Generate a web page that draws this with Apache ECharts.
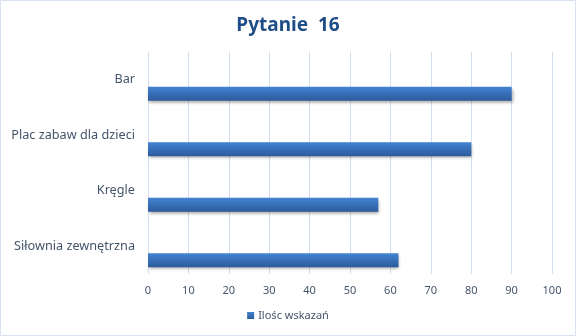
<!DOCTYPE html>
<html>
<head>
<meta charset="utf-8">
<script src="https://cdn.jsdelivr.net/npm/echarts@6/dist/echarts.min.js"></script>
<style>
  html, body { margin: 0; padding: 0; background: #fff; }
  #chart { width: 576px; height: 336px; }
</style>
</head>
<body>
<div id="chart"></div>
<script>
// Categories listed bottom to top (category axis runs upward)
const categories = ['Siłownia zewnętrzna', 'Kręgle', 'Plac zabaw dla dzieci', 'Bar'];
const values = [62, 57, 80, 90];
const xTicks = { min: 0, max: 100, interval: 10 };
const seriesName = 'Ilośc wskazań';
const titleText = 'Pytanie  16';

const chart = echarts.init(document.getElementById('chart'), null, { renderer: 'canvas' });

const textColor = '#44546a';
const font = '"Noto Sans", "Open Sans", sans-serif';

chart.setOption({
  animation: false,
  backgroundColor: '#ffffff',
  title: {
    text: titleText,
    left: 'center',
    top: 11,
    textStyle: { color: '#1f4e87', fontSize: 19, fontWeight: 'bold', fontFamily: font }
  },
  legend: {
    data: [seriesName],
    bottom: 10,
    left: 'center',
    itemWidth: 7,
    itemHeight: 7,
    itemGap: 4,
    icon: 'rect',
    textStyle: { color: textColor, fontSize: 11, fontFamily: font, padding: [0, 0, 0, -1] }
  },
  grid: { left: 148, right: 24, top: 52, bottom: 62, containLabel: false },
  xAxis: {
    type: 'value',
    min: xTicks.min,
    max: xTicks.max,
    interval: xTicks.interval,
    axisLine: { show: false },
    axisTick: { show: false },
    splitLine: { show: true, lineStyle: { color: '#d3dfee', width: 1 } },
    axisLabel: { color: textColor, fontSize: 11, fontFamily: font, margin: 11 }
  },
  yAxis: {
    type: 'category',
    data: categories,
    axisLine: { show: false },
    axisTick: { show: false },
    splitLine: { show: false },
    axisLabel: { color: textColor, fontSize: 12.7, fontFamily: font, margin: 13 }
  },
  series: [
    {
      // empty companion series keeps the clustered slot layout (upper slot)
      name: '_',
      type: 'bar',
      data: categories.map(() => null),
      barWidth: 14,
      barGap: '100%'
    },
    {
      name: seriesName,
      type: 'bar',
      data: values,
      barWidth: 14,
      barGap: '100%',
      itemStyle: {
        color: new echarts.graphic.LinearGradient(0, 0, 0, 1, [
          { offset: 0, color: '#4383d3' },
          { offset: 1, color: '#2c5b9b' }
        ]),
        shadowColor: 'rgba(0,0,0,0.35)',
        shadowBlur: 3,
        shadowOffsetY: 2,
        shadowOffsetX: 1
      }
    }
  ],
  graphic: [{
    type: 'rect',
    shape: { x: 0.5, y: 0.5, width: 575, height: 335 },
    style: { fill: 'none', stroke: '#d9e3ef', lineWidth: 1 },
    silent: true
  }]
});
</script>
</body>
</html>
